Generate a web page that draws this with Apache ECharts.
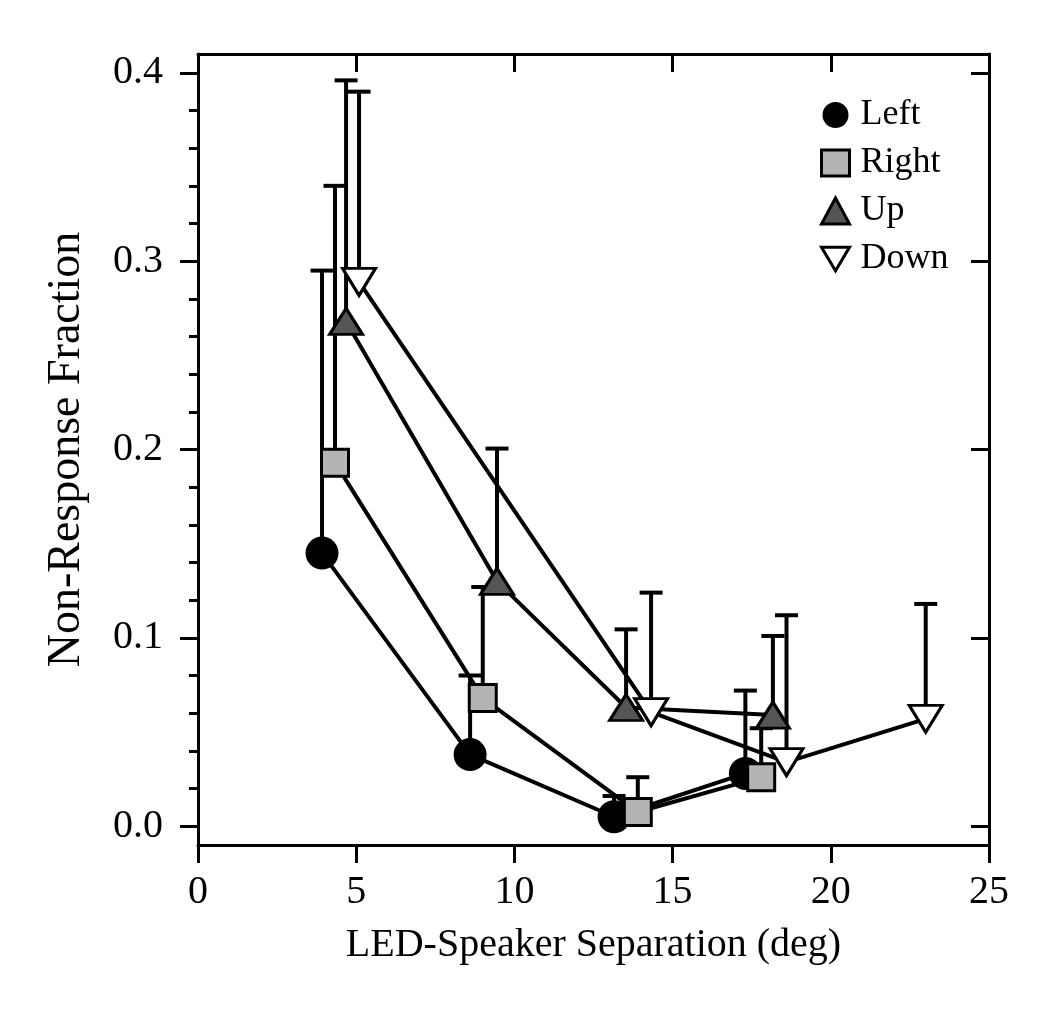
<!DOCTYPE html>
<html>
<head>
<meta charset="utf-8">
<script src="https://cdn.jsdelivr.net/npm/echarts@6/dist/echarts.min.js"></script>
<style>
html,body{margin:0;padding:0;background:#fff;}
#chart{width:1050px;height:1026px;}
</style>
</head>
<body>
<div id="chart"></div>
<script>
// ---- data ----
const seriesNames = ['Left', 'Right', 'Up', 'Down'];

const leftX   = [3.92, 8.6, 13.15, 17.3];
const leftY   = [0.145, 0.038, 0.005, 0.028];
const leftTop = [0.295, 0.080, 0.016, 0.072];

const rightX   = [4.33, 9.0, 13.9, 17.8];
const rightY   = [0.193, 0.068, 0.0075, 0.026];
const rightTop = [0.340, 0.127, 0.026, 0.052];

const upX   = [4.68, 9.45, 13.53, 18.17];
const upY   = [0.268, 0.130, 0.063, 0.059];
const upTop = [0.396, 0.2005, 0.1045, 0.101];

const downX   = [5.09, 14.32, 18.6, 23.0];
const downY   = [0.289, 0.0605, 0.034, 0.057];
const downTop = [0.390, 0.124, 0.112, 0.118];

const yMajorTicks = [0, 0.1, 0.2, 0.3, 0.4];
const yMinorTicks = [0.02, 0.04, 0.06, 0.08, 0.12, 0.14, 0.16, 0.18, 0.22, 0.24, 0.26, 0.28, 0.32, 0.34, 0.36, 0.38];

// ---- build ----
const FONT = 'Liberation Serif';
const zip2 = (xs, ys) => xs.map((x, i) => [x, ys[i]]);
const zip3 = (xs, ys, ts) => xs.map((x, i) => [x, ys[i], ts[i]]);

const downPath = 'path://M0,0L10,0L5,8.4Z';
const styles = [
  { symbol: 'circle', size: 33, color: '#000000' },
  { symbol: 'rect', size: 27, color: '#b4b4b4' },
  { symbol: 'triangle', size: [33, 26], color: '#555555' },
  { symbol: downPath, size: [33, 27], color: '#ffffff' }
];
const xs = [leftX, rightX, upX, downX];
const ys = [leftY, rightY, upY, downY];
const tops = [leftTop, rightTop, upTop, downTop];

function errRender(params, api) {
  const x = api.value(0), y = api.value(1), t = api.value(2);
  const p0 = api.coord([x, y]);
  const p1 = api.coord([x, t]);
  const st = { stroke: '#000', lineWidth: 4 };
  return {
    type: 'group',
    children: [
      { type: 'line', shape: { x1: p0[0], y1: p0[1], x2: p1[0], y2: p1[1] }, style: st },
      { type: 'line', shape: { x1: p1[0] - 11.5, y1: p1[1], x2: p1[0] + 11.5, y2: p1[1] }, style: st }
    ]
  };
}

const series = [];
seriesNames.forEach((name, i) => {
  series.push({
    type: 'custom',
    name: name + ' err',
    xAxisIndex: 0, yAxisIndex: 0,
    renderItem: errRender,
    encode: { x: 0, y: 1 },
    data: zip3(xs[i], ys[i], tops[i]),
    z: 1,
    silent: true
  });
});
seriesNames.forEach((name, i) => {
  series.push({
    type: 'line',
    name: name,
    xAxisIndex: 0, yAxisIndex: 0,
    data: zip2(xs[i], ys[i]),
    symbol: styles[i].symbol,
    symbolSize: styles[i].size,
    showAllSymbol: true,
    lineStyle: { color: '#000', width: 4 },
    itemStyle: { color: styles[i].color, borderColor: '#000', borderWidth: i === 0 ? 0 : 3 },
    emphasis: { disabled: true },
    z: 2 + i,
    silent: true
  });
});

const axisLine = { show: true, onZero: false, lineStyle: { color: '#000', width: 3 } };

const option = {
  animation: false,
  backgroundColor: '#fff',
  grid: { left: 198, right: 61, top: 54, bottom: 181, containLabel: false },
  legend: {
    orient: 'vertical',
    left: 815,
    top: 92,
    itemWidth: 28,
    itemHeight: 26,
    itemGap: 12,
    textStyle: { fontFamily: FONT, fontSize: 36, color: '#000', padding: [0, 0, 0, 6] },
    data: seriesNames.map((n, i) => ({
      name: n,
      icon: styles[i].symbol,
      itemStyle: { color: styles[i].color, borderColor: '#000', borderWidth: i === 0 ? 0 : 3 }
    }))
  },
  xAxis: [
    {
      type: 'value', position: 'bottom', min: 0, max: 25, interval: 5,
      axisLine: axisLine,
      axisTick: { show: true, inside: false, length: 18, lineStyle: { color: '#000', width: 3 } },
      axisLabel: { fontFamily: FONT, fontSize: 40, color: '#000', margin: 27 },
      splitLine: { show: false },
      name: 'LED-Speaker Separation (deg)',
      nameLocation: 'middle',
      nameGap: 80,
      nameTextStyle: { fontFamily: FONT, fontSize: 40, color: '#000' }
    },
    {
      type: 'value', position: 'top', min: 0, max: 25, interval: 5,
      axisLine: axisLine,
      axisTick: { show: true, inside: true, length: 18, lineStyle: { color: '#000', width: 3 } },
      axisLabel: { show: false },
      splitLine: { show: false }
    }
  ],
  yAxis: [
    {
      type: 'value', position: 'left', min: -0.01, max: 0.41,
      axisLine: axisLine,
      axisTick: { show: true, inside: false, length: 18, customValues: yMajorTicks, lineStyle: { color: '#000', width: 3 } },
      axisLabel: { fontFamily: FONT, fontSize: 40, color: '#000', margin: 35, customValues: yMajorTicks, formatter: v => v.toFixed(1) },
      splitLine: { show: false },
      name: 'Non-Response Fraction',
      nameLocation: 'middle',
      nameGap: 108,
      nameTextStyle: { fontFamily: FONT, fontSize: 46, color: '#000' }
    },
    {
      type: 'value', position: 'left', offset: 0, min: -0.01, max: 0.41,
      axisLine: { show: false },
      axisTick: { show: true, inside: false, length: 9, customValues: yMinorTicks, lineStyle: { color: '#000', width: 3 } },
      axisLabel: { show: false },
      splitLine: { show: false }
    },
    {
      type: 'value', position: 'right', offset: 0, min: -0.01, max: 0.41,
      axisLine: axisLine,
      axisTick: { show: true, inside: true, length: 18, customValues: yMajorTicks, lineStyle: { color: '#000', width: 3 } },
      axisLabel: { show: false },
      splitLine: { show: false }
    },
    {
      type: 'value', position: 'right', offset: 0, min: -0.01, max: 0.41,
      axisLine: { show: false },
      axisTick: { show: true, inside: true, length: 9, customValues: yMinorTicks, lineStyle: { color: '#000', width: 3 } },
      axisLabel: { show: false },
      splitLine: { show: false }
    }
  ],
  series: series
};

const chart = echarts.init(document.getElementById('chart'), null, { renderer: 'canvas' });
chart.setOption(option);
</script>
</body>
</html>
